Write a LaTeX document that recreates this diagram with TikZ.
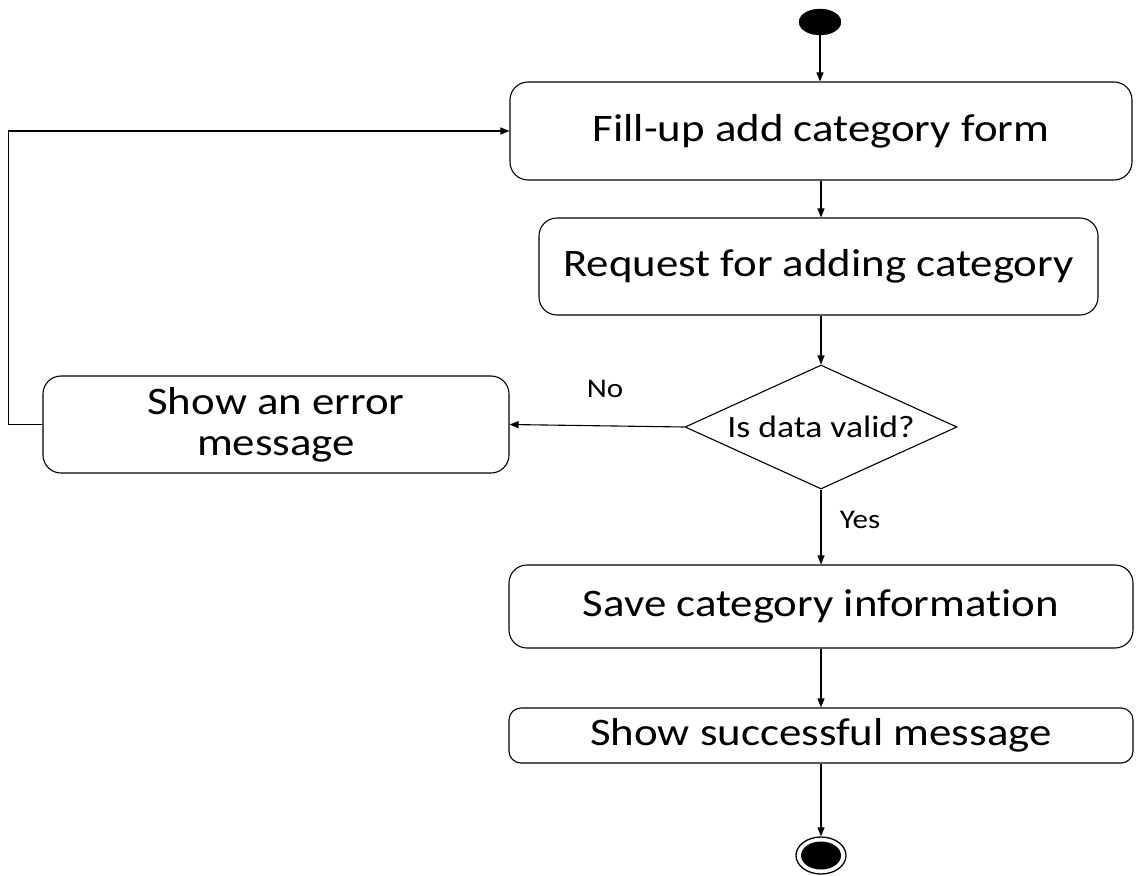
\documentclass[tikz,border=0pt]{standalone}
\usepackage{fontspec}
\setmainfont{Carlito}[FakeStretch=1.15, Ligatures={NoCommon,NoContextual}, RawFeature={-liga;-clig;-calt}]
\usetikzlibrary{shapes.geometric,arrows.meta}
\tikzset{
  box/.style={draw, line width=1.1pt, rounded corners=18pt, inner sep=0pt, align=center,
    font=\fontsize{39}{41}\selectfont},
  decision/.style={draw, line width=1.1pt, diamond, shape aspect=2.19, inner sep=0pt,
    minimum width=272pt, minimum height=124pt, font=\fontsize{31}{33}\selectfont},
  arr/.style={draw, line width=1.1pt, -{Triangle[length=9pt,width=7pt]}},
  lbl/.style={font=\fontsize{27}{29}\selectfont, inner sep=0pt}
}
\begin{document}
\begin{tikzpicture}[x=1pt,y=-1pt]
\useasboundingbox (0,0) rectangle (1137,875);
\node[draw, fill=black, ellipse, minimum width=42pt, minimum height=26pt, inner sep=0pt] (start) at (820,22) {};
\node[box, minimum width=622pt, minimum height=98pt] (fill) at (821,131) {Fill-up add category form};
\node[box, minimum width=559pt, minimum height=97pt] (req) at (818.5,266.5) {Request for adding category};
\node[decision] (dec) at (821,427) {Is data valid?};
\node[box, minimum width=466pt, minimum height=97pt] (err) at (276,424.5) {Show an error\\message};
\node[box, minimum width=624pt, minimum height=83pt] (save) at (821,606.5) {Save category informa\kern0pt tion};
\node[box, rounded corners=12pt, minimum width=624pt, minimum height=55pt] (succ) at (821,735.5) {Show successful message};
\node[draw, ellipse, line width=1.3pt, minimum width=50pt, minimum height=37pt, inner sep=0pt] (end) at (821,855.5) {};
\node[fill=black, ellipse, minimum width=40pt, minimum height=28pt, inner sep=0pt] (endin) at (821,855.5) {};
\node[lbl] (no) at (605,389) {No};
\node[lbl] (yes) at (860,520) {Yes};
\draw[arr] (start.south) -- (start.south |- fill.north);
\draw[arr] (fill.south) -- (fill.south |- req.north);
\draw[arr] (req.south -| dec.north) -- (dec.north);
\draw[arr] (dec.west) -- (err.east);
\draw[arr] (dec.south) -- (save.north);
\draw[arr] (save.south) -- (succ.north);
\draw[arr] (succ.south) -- (end.north);
\draw[arr] (err.west) -- ++(-34,0) |- (fill.west);
\end{tikzpicture}
\end{document}
